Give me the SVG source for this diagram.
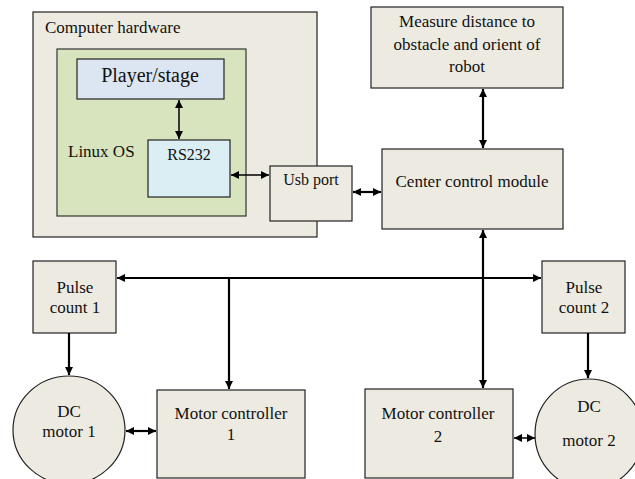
<svg xmlns="http://www.w3.org/2000/svg" width="635" height="479" viewBox="0 0 635 479" font-family="Liberation Serif, Times New Roman, serif">
<defs>
<style>
.box{fill:#EDEBE1;stroke:#222;stroke-width:1.2}
text{font-size:17px;fill:#111;text-anchor:middle}
.c{stroke:#000;stroke-width:2.2;fill:none}
.cs{stroke:#000;stroke-width:1.5;fill:none}
</style>
<marker id="a" viewBox="0 0 10 10" refX="10" refY="5" markerWidth="8" markerHeight="8" markerUnits="userSpaceOnUse" orient="auto-start-reverse">
<path d="M0,0 L10,5 L0,10 z" fill="#000"/>
</marker>
</defs>
<rect width="635" height="479" fill="#fff"/>
<g id="computer-hardware">
<rect class="box" x="33" y="12" width="284" height="225"/>
<text x="45" y="33" style="text-anchor:start">Computer hardware</text>
</g>
<g id="linux-os">
<rect x="57" y="49" width="189" height="167" fill="#D7E4BD" stroke="#333" stroke-width="1.2"/>
<text x="68" y="157" style="text-anchor:start">Linux OS</text>
</g>
<g id="player-stage">
<rect x="77" y="59" width="147" height="40" fill="#DCE6F2" stroke="#222" stroke-width="1.2"/>
<text x="150" y="82" style="font-size:20px">Player/stage</text>
</g>
<g id="rs232">
<rect x="148" y="140" width="82" height="57" fill="#DBEEF4" stroke="#222" stroke-width="1.2"/>
<text x="189" y="160" style="font-size:16px">RS232</text>
</g>
<g id="usb-port">
<rect class="box" x="270" y="166" width="82" height="55"/>
<text x="311" y="185" style="font-size:16px">Usb port</text>
</g>
<g id="measure">
<rect class="box" x="371" y="7" width="192" height="81"/>
<text x="467" y="27">Measure distance to</text>
<text x="467" y="50">obstacle and orient of</text>
<text x="467" y="72">robot</text>
</g>
<g id="center-control">
<rect class="box" x="382" y="149" width="181" height="80"/>
<text x="472" y="187">Center control module</text>
</g>
<g id="pulse-count-1">
<rect class="box" x="33" y="261" width="83" height="72"/>
<text x="75" y="293">Pulse</text>
<text x="75" y="313">count 1</text>
</g>
<g id="pulse-count-2">
<rect class="box" x="542" y="261" width="83" height="72"/>
<text x="584" y="293">Pulse</text>
<text x="584" y="313">count 2</text>
</g>
<g id="dc-motor-1">
<ellipse class="box" cx="69" cy="430" rx="56" ry="54"/>
<text x="69" y="417">DC</text>
<text x="69" y="437">motor 1</text>
</g>
<g id="motor-controller-1">
<rect class="box" x="157" y="390" width="148" height="88"/>
<text x="231" y="419">Motor controller</text>
<text x="231" y="440">1</text>
</g>
<g id="motor-controller-2">
<rect class="box" x="365" y="389" width="148" height="89"/>
<text x="438" y="419">Motor controller</text>
<text x="438" y="442">2</text>
</g>
<g id="dc-motor-2">
<ellipse class="box" cx="589" cy="434" rx="54" ry="55"/>
<text x="589" y="412">DC</text>
<text x="589" y="446">motor 2</text>
</g>
<g id="connectors">
<line class="cs" x1="179" y1="100" x2="179" y2="139" marker-start="url(#a)" marker-end="url(#a)"/>
<line class="cs" x1="231" y1="175" x2="269" y2="175" marker-start="url(#a)" marker-end="url(#a)"/>
<line class="c" x1="353" y1="192" x2="381" y2="192" marker-start="url(#a)" marker-end="url(#a)"/>
<line class="c" x1="483" y1="89" x2="483" y2="148" marker-start="url(#a)" marker-end="url(#a)"/>
<line class="c" x1="483" y1="230" x2="483" y2="388" marker-start="url(#a)" marker-end="url(#a)"/>
<line class="c" x1="117" y1="278" x2="541" y2="278" marker-start="url(#a)" marker-end="url(#a)"/>
<line class="c" x1="229" y1="278" x2="229" y2="389" marker-end="url(#a)"/>
<line class="c" x1="69" y1="333" x2="69" y2="375" marker-end="url(#a)"/>
<line class="c" x1="588" y1="333" x2="588" y2="378" marker-end="url(#a)"/>
<line class="c" x1="126" y1="431" x2="156" y2="431" marker-start="url(#a)" marker-end="url(#a)"/>
<line class="cs" x1="514" y1="438" x2="535" y2="438" marker-start="url(#a)" marker-end="url(#a)"/>
</g>
</svg>
